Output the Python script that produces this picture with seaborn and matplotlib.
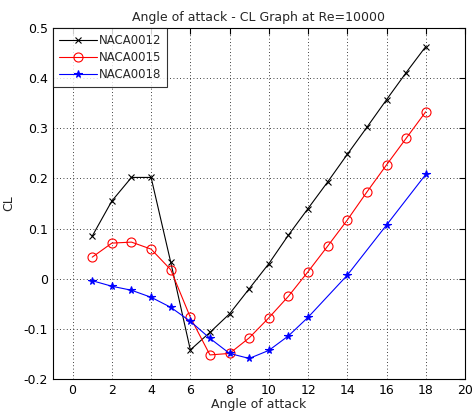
import numpy as np
import pandas as pd
import matplotlib
matplotlib.use("Agg")
import matplotlib.pyplot as plt
import seaborn as sns

alpha_0012 = [1, 2, 3, 4, 5, 6, 7, 8, 9, 10, 11, 12, 13, 14, 15, 16, 17, 18]
cl_0012 = [0.085, 0.155, 0.202, 0.202, 0.033, -0.142, -0.107, -0.07, -0.02, 0.03,
           0.087, 0.14, 0.193, 0.248, 0.302, 0.357, 0.411, 0.463]
alpha_0015 = [1, 2, 3, 4, 5, 6, 7, 8, 9, 10, 11, 12, 13, 14, 15, 16, 17, 18]
cl_0015 = [0.043, 0.071, 0.073, 0.059, 0.018, -0.077, -0.152, -0.149, -0.118, -0.078,
           -0.035, 0.014, 0.065, 0.117, 0.173, 0.227, 0.28, 0.333]
alpha_0018 = [1, 2, 3, 4, 5, 6, 7, 8, 9, 10, 11, 12, 14, 16, 18]
cl_0018 = [-0.004, -0.015, -0.023, -0.037, -0.057, -0.085, -0.119, -0.149, -0.159,
           -0.143, -0.114, -0.077, 0.007, 0.107, 0.208]

series_names = ["NACA0012", "NACA0015", "NACA0018"]
x_ticks = [0, 2, 4, 6, 8, 10, 12, 14, 16, 18, 20]
y_ticks = [-0.2, -0.1, 0, 0.1, 0.2, 0.3, 0.4, 0.5]

sns.set_style("white")
plt.rcParams['font.family'] = ['DejaVu Sans']

fig = plt.figure(figsize=(4.74, 4.2), dpi=100)
ax = fig.add_axes([53/474, 1 - 379/420, (465 - 53)/474, (379 - 28)/420])

datasets = [(alpha_0012, cl_0012, "black", "x", 4), (alpha_0015, cl_0015, "red", "o", 6.5),
            (alpha_0018, cl_0018, "blue", "*", 5.5)]
for name, (xs, ys, col, mk, ms) in zip(series_names, datasets):
    df = pd.DataFrame({"Angle of attack": xs, "CL": ys})
    mfc = "none" if mk == "o" else col
    sns.lineplot(data=df, x="Angle of attack", y="CL", ax=ax, color=col, marker=mk,
                 markersize=ms, markerfacecolor=mfc, markeredgecolor=col,
                 markeredgewidth=0.8, linewidth=0.8, label=name)

ax.set_xlim(-1, 20)
ax.set_ylim(-0.2, 0.5)
ax.set_xticks(x_ticks)
ax.set_xticklabels([str(t) for t in x_ticks])
ax.set_yticks(y_ticks)
ax.set_yticklabels(["-0.2", "-0.1", "0", "0.1", "0.2", "0.3", "0.4", "0.5"])
ax.grid(True, linestyle=(0, (1, 3)), color="black", linewidth=0.6)
ax.tick_params(direction="in", length=4, labelsize=9, top=True, right=True,
               colors="black")
for s in ax.spines.values():
    s.set_color("black")
    s.set_linewidth(0.8)
ax.set_xlabel("Angle of attack", fontsize=9, labelpad=1)
ax.set_ylabel("CL", fontsize=9, labelpad=6)
ax.set_title("Angle of attack - CL Graph at Re=10000", fontsize=9, pad=5)
leg = ax.legend(loc="upper left", fontsize=8.5, frameon=True, fancybox=False,
                borderaxespad=0, handlelength=3.2, borderpad=0.5, labelspacing=0.35,
                handletextpad=0.2)
leg.get_frame().set_edgecolor("black")
leg.get_frame().set_linewidth(0.8)

fig.savefig("out.png", dpi=100)
